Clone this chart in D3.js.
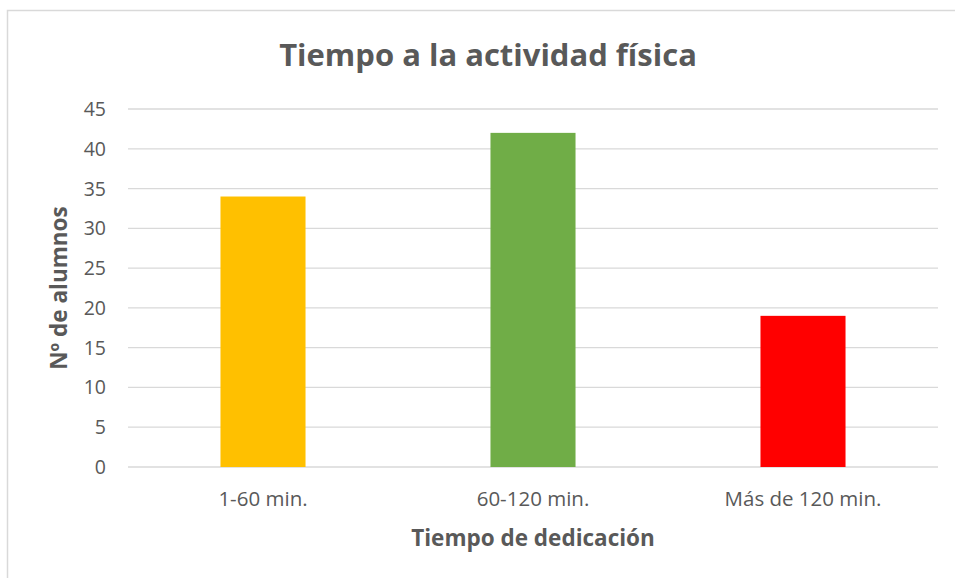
<!DOCTYPE html>
<html lang="es">
<head>
  <meta charset="UTF-8">
  <title>Tiempo a la actividad física</title>
  <style>
    body { margin: 0; background: #fff; }
    text { font-family: "Open Sans", sans-serif; fill: #595959; }
  </style>
</head>
<body>
  <svg width="955" height="578" id="chart"></svg>
  <script src="https://d3js.org/d3.v7.min.js"></script>
  <script>
    const categories = ['1-60 min.', '60-120 min.', 'Más de 120 min.'];
    const values = [34, 42, 19];
    const colors = ['#ffc000', '#70ad47', '#ff0000'];
    const yTicks = [0, 5, 10, 15, 20, 25, 30, 35, 40, 45];

    let svg = d3.select('#chart');

    // chart area border
    svg.append('rect')
        .attr('x', 7.5).attr('y', 10.5)
        .attr('width', 1000).attr('height', 1000)
        .attr('fill', 'none')
        .attr('stroke', '#d9d9d9')
        .attr('stroke-width', 1.5);

    let plotLeft = 128, plotRight = 938, plotTop = 109, plotBottom = 467;

    let x = d3.scaleBand().domain(categories).range([plotLeft, plotRight]).paddingInner(0.685).paddingOuter(0.3425);
    let y = d3.scaleLinear().domain([0, 45]).range([plotBottom, plotTop]);

    svg.append('g').selectAll('line').data(yTicks).join('line')
        .attr('x1', plotLeft).attr('x2', plotRight)
        .attr('y1', d => y(d)).attr('y2', d => y(d))
        .attr('stroke', '#d9d9d9')
        .attr('stroke-width', 1.3);

    svg.append('g').selectAll('text').data(yTicks).join('text')
        .attr('x', 106)
        .attr('y', d => y(d))
        .attr('dy', '0.36em')
        .attr('text-anchor', 'end')
        .attr('font-size', 19.5)
        .text(d => d);

    svg.append('g').selectAll('rect').data(values).join('rect')
        .attr('x', (d, i) => x(categories[i]))
        .attr('y', d => y(d))
        .attr('width', x.bandwidth())
        .attr('height', d => y(0) - y(d))
        .attr('fill', (d, i) => colors[i]);

    svg.append('g').selectAll('text').data(categories).join('text')
        .attr('x', d => x(d) + x.bandwidth() / 2)
        .attr('y', 506)
        .attr('text-anchor', 'middle')
        .attr('font-size', 20.5)
        .text(d => d);

    svg.append('text')
        .attr('x', 488).attr('y', 66)
        .attr('text-anchor', 'middle')
        .attr('font-size', 31)
        .attr('font-weight', 'bold')
        .text('Tiempo a la actividad física');

    svg.append('text')
        .attr('x', plotLeft + (plotRight - plotLeft) / 2).attr('y', 546)
        .attr('text-anchor', 'middle')
        .attr('font-size', 22.5)
        .attr('font-weight', 'bold')
        .text('Tiempo de dedicación');

    svg.append('text')
        .attr('transform', `translate(67, ${(plotTop + plotBottom) / 2}) rotate(-90)`)
        .attr('text-anchor', 'middle')
        .attr('font-size', 22.5)
        .attr('font-weight', 'bold')
        .text('Nº de alumnos');
  </script>
</body>
</html>
